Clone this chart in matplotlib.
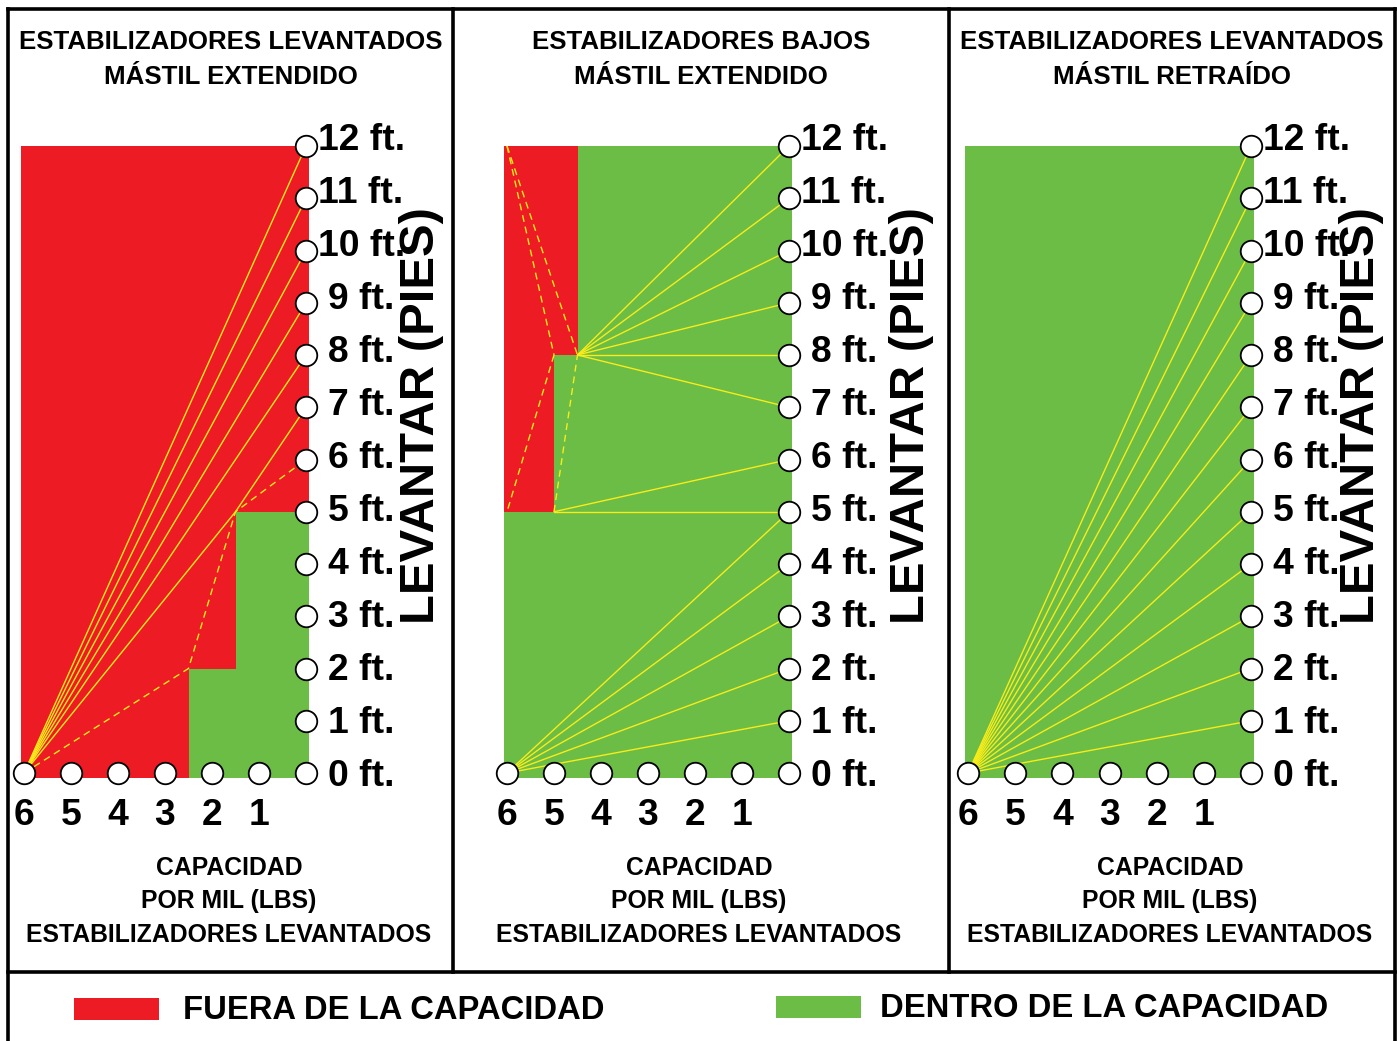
import matplotlib
matplotlib.use("Agg")
import matplotlib.pyplot as plt
from matplotlib.patches import Rectangle

plt.rcParams['font.family'] = ['Liberation Sans', 'DejaVu Sans']
plt.rcParams['font.weight'] = 'bold'

# ---------------- data ----------------
capacities = [6, 5, 4, 3, 2, 1]          # x tick labels (thousand lbs)
cap_points = [6, 5, 4, 3, 2, 1, 0]       # bottom circles
heights = list(range(0, 13))             # lift heights (ft)
height_labels = [f"{h} ft." for h in heights]

titles = [
    ["ESTABILIZADORES LEVANTADOS", "MÁSTIL EXTENDIDO"],
    ["ESTABILIZADORES BAJOS", "MÁSTIL EXTENDIDO"],
    ["ESTABILIZADORES LEVANTADOS", "MÁSTIL RETRAÍDO"],
]
bottom_text = ["CAPACIDAD", "POR MIL (LBS)", "ESTABILIZADORES LEVANTADOS"]
ylabel = "LEVANTAR (PIES)"
legend_labels = ["FUERA DE LA CAPACIDAD", "DENTRO DE LA CAPACIDAD"]

# panel 1: green (within capacity) bands: (y_low, y_high, max capacity)
p1_green_bands = [(0, 2, 2.5), (2, 5, 1.5)]
p1_fan_targets = [8, 9, 10, 11, 12]
p1_bent_path = [(6, 0), (1.5, 5), (0, 7)]
p1_dashed_path = [(6, 0), (2.5, 2), (1.5, 5), (0, 6)]

# panel 2: red (out of capacity) bands: (y_low, y_high, min capacity)
p2_red_bands = [(5, 8, 5.0), (8, 12, 4.5)]
p2_fan_origin = (6, 0)
p2_fan_targets = [1, 2, 3, 4, 5]
p2_mid_origin = (5, 5)
p2_mid_targets = [5, 6]
p2_top_origin = (4.5, 8)
p2_top_targets = [7, 8, 9, 10, 11, 12]
p2_dashed_paths = [
    [(5, 5), (4.5, 8)],
    [(6, 12), (4.5, 8)],
    [(6, 12), (5, 8)],
    [(5, 8), (6, 5)],
]

# panel 3: all within capacity
p3_fan_targets = list(range(1, 13))

# ---------------- style ----------------
RED = '#ED1C24'
GREEN = '#6BBD45'
YELLOW = '#F8EC1A'
W, H = 1397, 1041

fig = plt.figure(figsize=(W / 100, H / 100), dpi=100)
frame = fig.add_axes([0, 0, 1, 1])
frame.set_xlim(0, W)
frame.set_ylim(H, 0)
frame.axis('off')

panel_x6 = [24, 507, 968]
panel_x0 = [306, 789, 1251]
y0px, y12px = 773, 146
panel_centers = [231, 701, 1172]
ylabel_x = [422, 912, 1362]

pad_x, pad_y = 0.064, 0.096
line_kw = dict(color=YELLOW, lw=1.0, clip_on=False, zorder=3, solid_capstyle='round')
dash_kw = dict(color=YELLOW, lw=1.0, clip_on=False, zorder=3, dashes=(5, 3.5))


def make_ax(i):
    x6, x0 = panel_x6[i], panel_x0[i]
    ax = fig.add_axes([x6 / W, (H - y0px) / H, (x0 - x6) / W, (y0px - y12px) / H])
    ax.set_xlim(6, 0)
    ax.set_ylim(0, 12)
    ax.axis('off')
    return ax


def full_rect(ax, color):
    ax.add_patch(Rectangle((-pad_x, -pad_y), 6 + 2 * pad_x, 12 + pad_y,
                           facecolor=color, edgecolor='none', clip_on=False, zorder=1))


def path(ax, pts, **kw):
    ax.plot([p[0] for p in pts], [p[1] for p in pts], **kw)


def decorate(ax):
    # circles
    ax.plot(cap_points, [0] * len(cap_points), 'o', ms=15.5, mfc='white', mec='black',
            mew=1.3, clip_on=False, zorder=5)
    ax.plot([0] * 12, heights[1:], 'o', ms=15.5, mfc='white', mec='black',
            mew=1.3, clip_on=False, zorder=5)
    # height labels
    for h, lab in zip(heights, height_labels):
        dx = -0.255 if h >= 10 else -0.468
        ax.text(dx, h * 53 / 52.25 - 0.24, lab, ha='left', va='baseline',
                fontsize=26.8, fontweight='bold', zorder=6)
    # capacity labels
    for c in capacities:
        ax.text(c, -0.995, str(c), ha='center', va='baseline',
                fontsize=26.8, fontweight='bold', zorder=6)


# ---------- Panel 1 ----------
ax1 = make_ax(0)
full_rect(ax1, RED)
for (ylo, yhi, cmax) in p1_green_bands:
    lo = ylo if ylo > 0 else -pad_y
    ax1.fill_betweenx([lo, yhi], cmax, -pad_x, color=GREEN, lw=0, zorder=2, clip_on=False)
for t in p1_fan_targets:
    path(ax1, [(6, 0), (0, t)], **line_kw)
path(ax1, p1_bent_path, **line_kw)
path(ax1, p1_dashed_path, **dash_kw)
decorate(ax1)

# ---------- Panel 2 ----------
ax2 = make_ax(1)
full_rect(ax2, GREEN)
for (ylo, yhi, cmin) in p2_red_bands:
    ax2.fill_betweenx([ylo, yhi], 6 + pad_x, cmin, color=RED, lw=0, zorder=2, clip_on=False)
for t in p2_fan_targets:
    path(ax2, [p2_fan_origin, (0, t)], **line_kw)
for t in p2_mid_targets:
    path(ax2, [p2_mid_origin, (0, t)], **line_kw)
for t in p2_top_targets:
    path(ax2, [p2_top_origin, (0, t)], **line_kw)
for p in p2_dashed_paths:
    path(ax2, p, **dash_kw)
decorate(ax2)

# ---------- Panel 3 ----------
ax3 = make_ax(2)
full_rect(ax3, GREEN)
for t in p3_fan_targets:
    path(ax3, [(6, 0), (0, t)], **line_kw)
decorate(ax3)

# ---------- frame texts ----------
for i in range(3):
    cx = panel_centers[i]
    frame.text(cx, 49, titles[i][0], ha='center', va='baseline', fontsize=18.6, fontweight='bold')
    frame.text(cx, 84, titles[i][1], ha='center', va='baseline', fontsize=18.6, fontweight='bold')
    bx = cx - 2
    frame.text(bx, 875, bottom_text[0], ha='center', va='baseline', fontsize=17.85, fontweight='bold')
    frame.text(bx, 908, bottom_text[1], ha='center', va='baseline', fontsize=17.85, fontweight='bold')
    frame.text(bx, 942, bottom_text[2], ha='center', va='baseline', fontsize=17.85, fontweight='bold')
    frame.text(ylabel_x[i], 416, ylabel, rotation=90, ha='center', va='center',
               fontsize=35.3, fontweight='bold')

# borders
blk = dict(color='black', lw=2.6, solid_capstyle='projecting')
frame.plot([8, 1395], [9, 9], **blk)
frame.plot([8, 8], [9, 1041], **blk)
frame.plot([1395, 1395], [9, 1041], **blk)
frame.plot([453, 453], [9, 972], **blk)
frame.plot([949, 949], [9, 972], **blk)
frame.plot([8, 1395], [972, 972], **blk)

# legend
frame.add_patch(Rectangle((74, 998), 85, 22, facecolor=RED, edgecolor='none'))
frame.text(183, 1019, legend_labels[0], ha='left', va='baseline', fontsize=23.6, fontweight='bold')
frame.add_patch(Rectangle((776, 996), 85, 22, facecolor=GREEN, edgecolor='none'))
frame.text(880, 1017, legend_labels[1], ha='left', va='baseline', fontsize=23.6, fontweight='bold')

fig.savefig('out.png', dpi=100)
